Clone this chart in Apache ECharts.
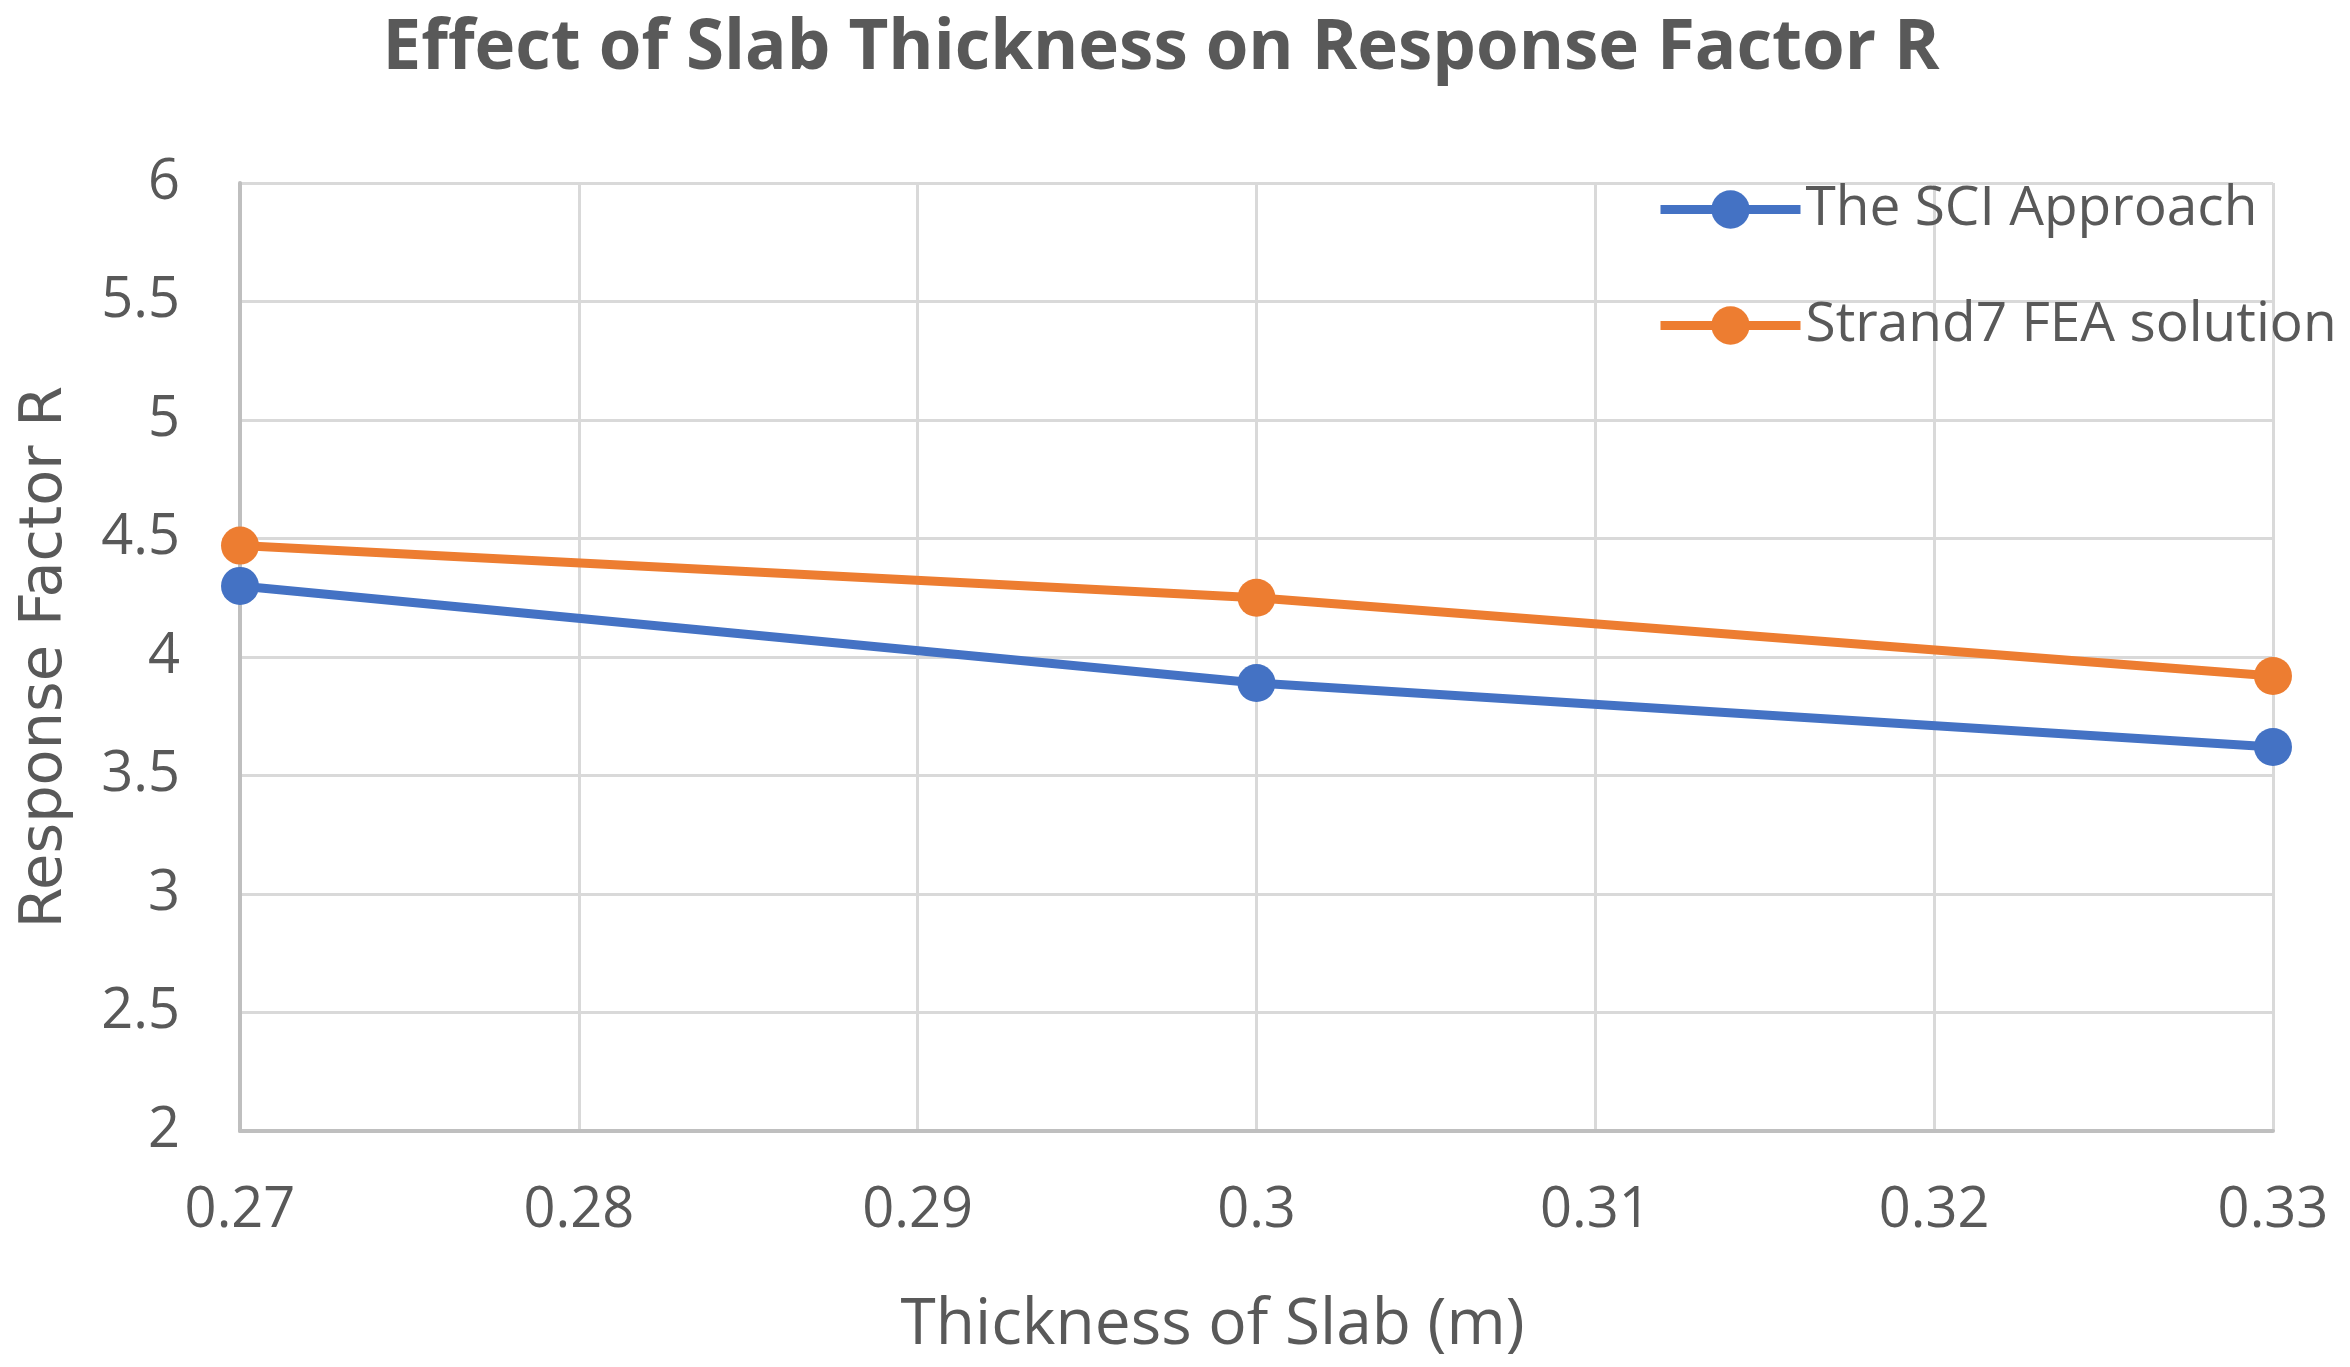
<!DOCTYPE html>
<html>
<head>
<meta charset="utf-8">
<script src="https://cdn.jsdelivr.net/npm/echarts@6/dist/echarts.min.js"></script>
<style>
html,body{margin:0;padding:0;background:#fff;}
#chart{width:2350px;height:1367px;}
</style>
</head>
<body>
<div id="chart"></div>
<script>
const thickness = [0.27, 0.30, 0.33];
const sciApproach = [4.30, 3.89, 3.62];
const strand7FEA = [4.47, 4.25, 3.92];
const seriesNames = ['The SCI Approach', 'Strand7 FEA solution'];
const titleText = 'Effect of Slab Thickness on Response Factor R';
const xAxisTitle = 'Thickness of Slab (m)';
const yAxisTitle = 'Response Factor R';

const textColor = '#595959';
const chart = echarts.init(document.getElementById('chart'));

function pairs(xs, ys) { return xs.map((x, i) => [x, ys[i]]); }

const lineSeries = (name, data, color) => ({
  name: name,
  type: 'line',
  data: pairs(thickness, data),
  symbol: 'circle',
  symbolSize: 38,
  lineStyle: { color: color, width: 9 },
  itemStyle: { color: color },
  emphasis: { disabled: true },
  animation: false
});

chart.setOption({
  backgroundColor: '#ffffff',
  animation: false,
  title: {
    text: titleText,
    left: 1156,
    textAlign: 'center',
    top: 10,
    textStyle: { fontFamily: 'Open Sans', fontWeight: 'bold', fontSize: 69, color: textColor }
  },
  legend: {
    orient: 'vertical',
    left: 1651,
    top: 177,
    itemWidth: 140,
    itemHeight: 48,
    itemGap: 61,
    lineStyle: { width: 9 },
    textStyle: { fontFamily: 'Open Sans', fontSize: 55, color: textColor, lineHeight: 48 },
    data: seriesNames
  },
  grid: { left: 240, right: 77, top: 183, bottom: 236, containLabel: false },
  xAxis: {
    type: 'value',
    min: 0.27,
    max: 0.33,
    interval: 0.01,
    name: xAxisTitle,
    nameLocation: 'middle',
    nameGap: 163,
    nameTextStyle: { fontFamily: 'Open Sans', fontSize: 64, color: textColor, padding: [0, 88, 0, 0] },
    axisLine: { show: true, lineStyle: { color: '#BFBFBF', width: 4 } },
    axisTick: { show: false },
    axisLabel: {
      margin: 52,
      fontFamily: 'Open Sans', fontSize: 56, color: textColor,
      formatter: v => String(Number(v.toFixed(2)))
    },
    splitLine: { show: true, lineStyle: { color: '#D9D9D9', width: 3 } }
  },
  yAxis: {
    type: 'value',
    min: 2,
    max: 6,
    interval: 0.5,
    name: yAxisTitle,
    nameLocation: 'middle',
    nameGap: 165,
    nameRotate: 90,
    nameTextStyle: { fontFamily: 'DejaVu Sans', fontSize: 59, color: textColor },
    axisLine: { show: true, lineStyle: { color: '#BFBFBF', width: 4 } },
    axisTick: { show: false },
    axisLabel: { margin: 60, fontFamily: 'Open Sans', fontSize: 56, color: textColor },
    splitLine: { show: true, lineStyle: { color: '#D9D9D9', width: 3 } }
  },
  series: [
    lineSeries(seriesNames[0], sciApproach, '#4472C4'),
    lineSeries(seriesNames[1], strand7FEA, '#ED7D31')
  ]
});
</script>
</body>
</html>
